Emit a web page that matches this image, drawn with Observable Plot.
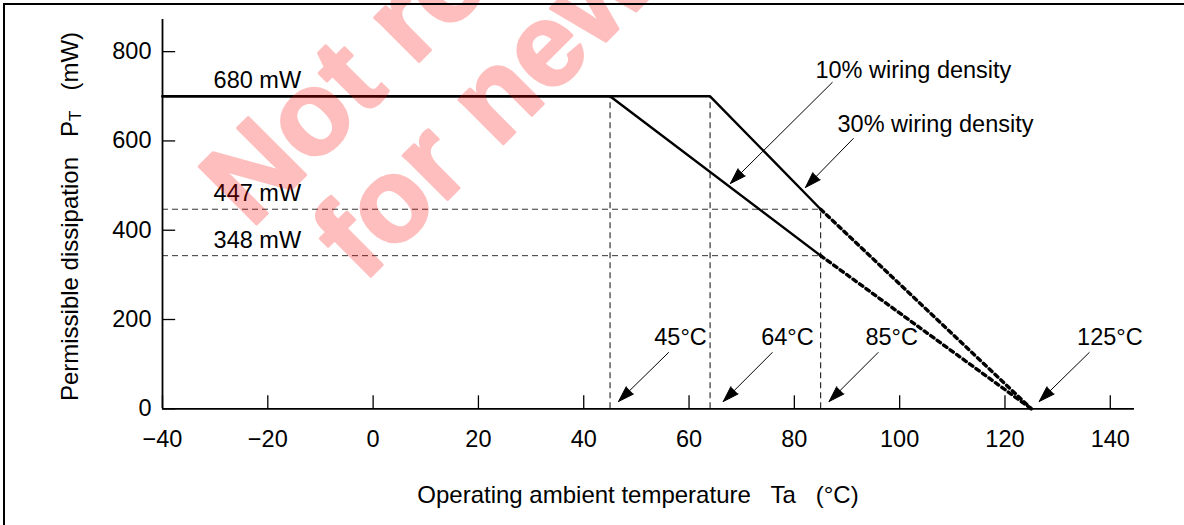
<!DOCTYPE html>
<html><head><meta charset="utf-8">
<script src="https://cdn.jsdelivr.net/npm/d3@7"></script>
<script src="https://cdn.jsdelivr.net/npm/@observablehq/plot@0.6"></script>
<style>
html,body{margin:0;padding:0;background:#fff;}
#wrap{position:relative;width:1184px;height:525px;overflow:hidden;}
#border{position:absolute;left:3px;top:3px;width:1250px;height:600px;border-left:2.5px solid #000;border-top:2.5px solid #000;pointer-events:none;}
</style></head><body>
<div id="wrap"><div id="chart"></div><div id="border"></div></div>
<script>
// ---- data ----
const xTicks = [-40, -20, 0, 20, 40, 60, 80, 100, 120, 140];
const yTicks = [0, 200, 400, 600, 800];
const density10Solid = [{t: -40, p: 700}, {t: 45, p: 700}, {t: 85, p: 343}];
const density10Dotted = [{t: 85, p: 343}, {t: 125, p: 0}];
const density30Solid = [{t: -40, p: 700}, {t: 64, p: 700}, {t: 85, p: 447}];
const density30Dotted = [{t: 85, p: 447}, {t: 125, p: 0}];
const levelLabels = [{p: 700, label: "680 mW"}, {p: 447, label: "447 mW"}, {p: 343, label: "348 mW"}];
const hGuides = [447, 343];
const vGuidesGray = [45, 64];
const vGuidesBlack = [{t: 85, top: 447}];
const tempLabels = [
  {lx: 53.4, label: "45°C", x1: 56.1, x2: 46.6},
  {lx: 73.7, label: "64°C", x1: 75.8, x2: 66.5},
  {lx: 93.5, label: "85°C", x1: 95.9, x2: 86.6},
  {lx: 133.7, label: "125°C", x1: 136.0, x2: 126.5}
];
const seriesLabels = [
  {lx: 84.0, ly: 740, label: "10% wiring density", x1: 87.2, y1: 731, x2: 67.85, y2: 504.6},
  {lx: 88.2, ly: 619, label: "30% wiring density", x1: 91.2, y1: 605.4, x2: 82.1, y2: 495.6}
];
const xTitle = "Operating ambient temperature\u00a0\u00a0 Ta\u00a0\u00a0 (°C)";
const yTitleMain = "Permissible dissipation\u00a0\u00a0 P";
const yTitleSub = "T";
const yTitleTail = "\u00a0\u00a0 (mW)";
const watermark = ["Not recommended", "for new design"];

const fmt = d => d < 0 ? "\u2212" + (-d) : String(d);
const FONT = "'Liberation Sans', Arial, Helvetica, sans-serif";
const FS = 23.5;

const chart = Plot.plot({
  width: 1184, height: 525,
  marginLeft: 162, marginRight: 50, marginTop: 19, marginBottom: 116.7,
  style: {fontFamily: FONT, fontSize: FS + "px", color: "#000", background: "#fff", overflow: "visible"},
  x: {domain: [-40, 144.6]},
  y: {domain: [0, 872]},
  marks: [
    // guides
    Plot.ruleY(hGuides, {y: d => d, x1: -40, x2: 85, stroke: "#333", strokeWidth: 1, strokeDasharray: "6,4"}),
    Plot.ruleX(vGuidesGray, {x: d => d, y1: 0, y2: 700, stroke: "#666", strokeWidth: 1.6, strokeDasharray: "6,4"}),
    Plot.ruleX(vGuidesBlack, {x: "t", y1: 0, y2: "top", stroke: "#000", strokeWidth: 1, strokeDasharray: "6,4"}),
    // axes
    Plot.ruleY([0], {strokeWidth: 1.8}),
    Plot.ruleX([-40], {strokeWidth: 1.8}),
    Plot.ruleX(xTicks, {x: d => d, y1: 0, y2: 29, strokeWidth: 1.3}),
    Plot.ruleY(yTicks, {y: d => d, x1: -40, x2: -37.5, strokeWidth: 1.3}),
    Plot.axisX({ticks: xTicks, tickSize: 0, tickPadding: 22, tickFormat: fmt, label: null, fontSize: FS}),
    Plot.axisY({ticks: yTicks, tickSize: 0, tickPadding: 11, tickFormat: fmt, label: null, fontSize: FS}),
    // curves
    Plot.line(density10Solid, {x: "t", y: "p", strokeWidth: 2.4}),
    Plot.line(density30Solid, {x: "t", y: "p", strokeWidth: 2.4}),
    Plot.line(density10Dotted, {x: "t", y: "p", strokeWidth: 3.4, strokeDasharray: "4,4"}),
    Plot.line(density30Dotted, {x: "t", y: "p", strokeWidth: 3.4, strokeDasharray: "4,4"}),
    // labels
    Plot.text(levelLabels, {x: -30.3, y: "p", text: "label", textAnchor: "start", lineAnchor: "bottom", dy: -8, fontSize: FS}),
    Plot.text(tempLabels, {x: "lx", y: 142, text: "label", textAnchor: "start", lineAnchor: "bottom", fontSize: FS}),
    Plot.arrow(tempLabels, {x1: "x1", y1: 126, x2: "x2", y2: 16.3, stroke: "#000", strokeWidth: 1, fill: "#000", headLength: 25, headAngle: 36}),
    Plot.text(seriesLabels, {x: "lx", y: "ly", text: "label", textAnchor: "start", lineAnchor: "bottom", fontSize: FS}),
    Plot.arrow(seriesLabels, {x1: "x1", y1: "y1", x2: "x2", y2: "y2", stroke: "#000", strokeWidth: 1, fill: "#000", headLength: 25, headAngle: 36}),
    // titles
    Plot.text([xTitle], {x: 50.3, frameAnchor: "bottom", dy: 93.7, text: d => d, lineAnchor: "bottom", fontSize: 24}),
    Plot.text([yTitleMain], {y: 430.7, frameAnchor: "left", dx: -85, rotate: -90, text: d => d, lineAnchor: "bottom", textAnchor: "middle", fontSize: 24})
  ]
});

// subscript in y title
const svg = d3.select(chart.tagName === "svg" ? chart : chart.querySelector("svg"));
svg.selectAll("text").filter(function() { return this.textContent === yTitleMain; }).each(function() {
  const t = d3.select(this);
  t.text(null);
  t.append("tspan").text(yTitleMain);
  t.append("tspan").attr("font-size", "17px").attr("dy", "3").text(yTitleSub);
  t.append("tspan").attr("dy", "-3").text(yTitleTail);
});

// watermark overlay
const wm = svg.append("g").attr("opacity", 0.25).attr("fill", "red").attr("stroke", "red").attr("stroke-width", 3)
  .attr("stroke-linejoin", "round").attr("text-anchor", "start")
  .attr("font-family", FONT).attr("font-weight", "bold").attr("font-size", 118);
wm.append("text").attr("transform", "translate(251,229.5) rotate(-45)").text(watermark[0]);
wm.append("text").attr("transform", "translate(363,284) rotate(-45)").text(watermark[1]);

document.getElementById("chart").appendChild(chart);
</script>
</body></html>
